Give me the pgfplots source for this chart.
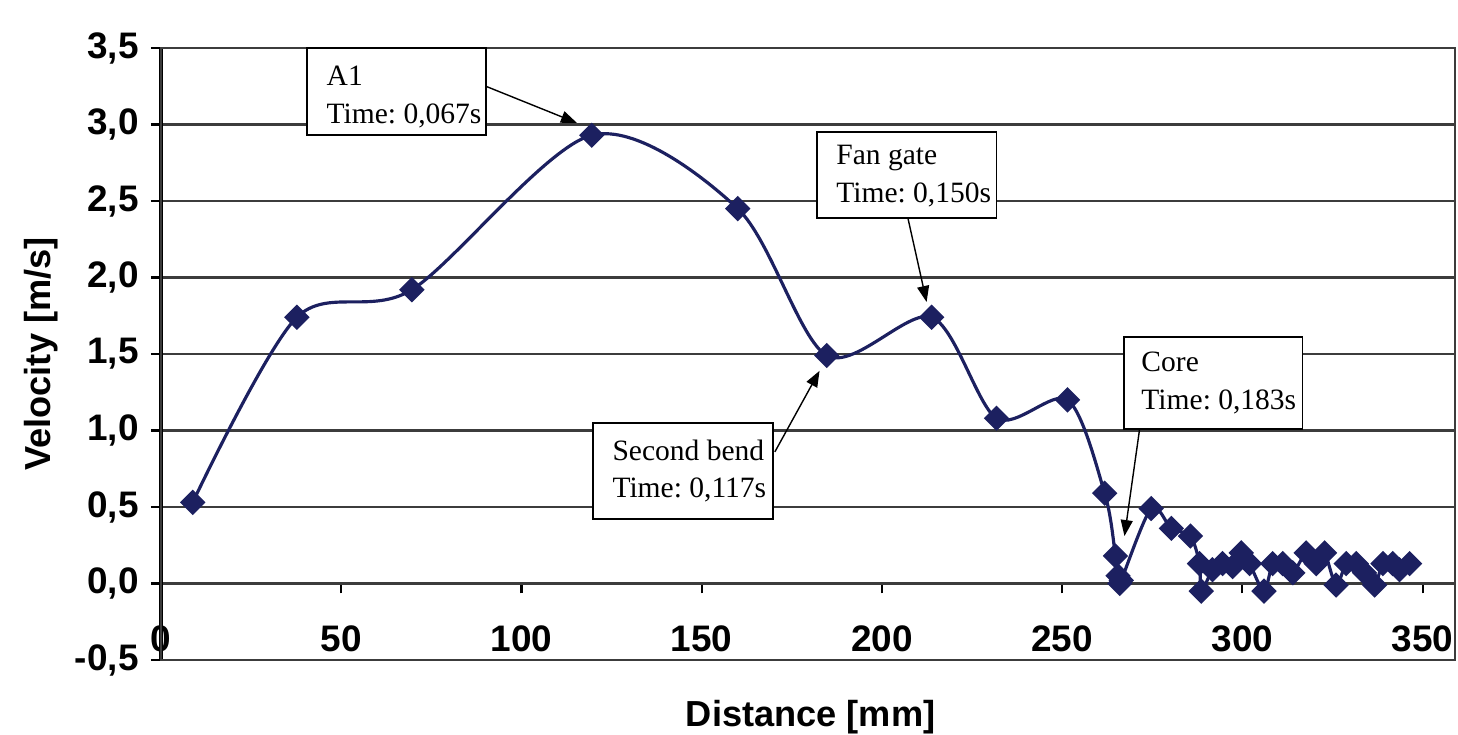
\documentclass[border=0pt]{standalone}
\usepackage{pgfplots}
\pgfplotsset{compat=1.18}
\usetikzlibrary{arrows.meta}
\usepackage{fontspec}
\setmainfont{Liberation Sans}
\newfontfamily\boxfont{Liberation Serif}
\definecolor{navy}{RGB}{28,32,96}
\definecolor{gridc}{RGB}{60,60,60}
\frenchspacing

\pgfplotstableread{
x y
8.8 0.53
37.7 1.74
69.6 1.92
119.5 2.93
160.0 2.45
184.7 1.49
213.8 1.74
231.8 1.08
251.5 1.20
261.8 0.59
264.8 0.18
265.5 0.05
266.0 0.00
266.4 0.02
274.7 0.49
280.3 0.36
285.6 0.31
288.1 0.13
288.6 -0.05
291.7 0.09
294.5 0.13
297.3 0.11
299.7 0.20
302.0 0.13
306.0 -0.05
308.4 0.13
311.2 0.13
314.0 0.07
317.7 0.20
320.5 0.13
322.8 0.20
326.0 -0.01
328.8 0.13
331.6 0.13
333.9 0.07
336.7 -0.01
339.0 0.13
341.7 0.13
343.6 0.09
346.4 0.13
}\velocity

\begin{document}
\begin{tikzpicture}
\begin{axis}[
  name=ax,
  scale only axis, width=12.94cm, height=6.12cm,
  xmin=0, xmax=359, ymin=-0.5, ymax=3.5,
  axis x line*=middle, axis y line*=left,
  xtick={0,50,100,150,200,250,300,350},
  ytick={-0.5,0,0.5,1,1.5,2,2.5,3,3.5},
  hide obscured x ticks=false, hide obscured y ticks=false,
  ymajorgrids, grid style={gridc, line width=0.7pt},
  tick align=outside, major tick length=0.1cm,
  tick style={black, line width=0.6pt},
  x axis line style={gridc, line width=0.7pt},
  y axis line style={black, line width=0.9pt},
  /pgf/number format/assume math mode=true,
  ticklabel style={font=\bfseries\fontsize{10.5}{12}\selectfont},
  y tick label style={/pgf/number format/.cd, fixed, fixed zerofill, precision=1, use comma},
  x tick label style={yshift=-0.2cm},
  clip=false,
]
\draw[gridc, line width=0.7pt] (rel axis cs:0,0) rectangle (rel axis cs:1,1);

\addplot[navy, line width=0.9pt, smooth, tension=0.5,
  mark=square*, mark size=2.1pt, mark options={rotate=45, fill=navy, solid}]
  table {\velocity};

% annotation boxes
\draw[black, line width=0.5pt, fill=white] (axis cs:40.5,3.5) rectangle (axis cs:90.1,2.93);
\node[anchor=west, align=left, inner sep=0pt, font=\boxfont\fontsize{8.4}{10.8}\selectfont]
  at ([xshift=0.19cm]axis cs:40.5,3.18) {A1\\Time: 0,067s};
\draw[black, line width=0.4pt, -{Triangle[length=1.6mm,width=1.2mm]}] (axis cs:90.1,3.25) -- (axis cs:115.4,3.01);

\draw[black, line width=0.5pt, fill=white] (axis cs:181.9,2.95) rectangle (axis cs:231.8,2.39);
\node[anchor=west, align=left, inner sep=0pt, font=\boxfont\fontsize{8.4}{10.8}\selectfont]
  at ([xshift=0.19cm]axis cs:181.9,2.66) {Fan gate\\Time: 0,150s};
\draw[black, line width=0.4pt, -{Triangle[length=1.6mm,width=1.2mm]}] (axis cs:207.2,2.39) -- (axis cs:212.4,1.84);

\draw[black, line width=0.5pt, fill=white] (axis cs:119.8,1.05) rectangle (axis cs:169.7,0.42);
\node[anchor=west, align=left, inner sep=0pt, font=\boxfont\fontsize{8.4}{10.8}\selectfont]
  at ([xshift=0.19cm]axis cs:119.8,0.735) {Second bend\\Time: 0,117s};
\draw[black, line width=0.4pt, -{Triangle[length=1.6mm,width=1.2mm]}] (axis cs:170.3,0.86) -- (axis cs:182.7,1.39);

\draw[black, line width=0.5pt, fill=white] (axis cs:267.1,1.61) rectangle (axis cs:316.7,1.01);
\node[anchor=west, align=left, inner sep=0pt, font=\boxfont\fontsize{8.4}{10.8}\selectfont]
  at ([xshift=0.17cm]axis cs:267.1,1.31) {Core\\Time: 0,183s};
\draw[black, line width=0.4pt, -{Triangle[length=1.6mm,width=1.2mm]}] (axis cs:271.5,1.01) -- (axis cs:267.3,0.31);

% axis titles
\node[rotate=90, font=\bfseries\fontsize{10.3}{12}\selectfont]
  at ([xshift=-1.20cm]rel axis cs:0,0.5) {Velocity [m/s]};
\node[font=\bfseries\fontsize{10.3}{12}\selectfont]
  at ([yshift=-0.57cm]rel axis cs:0.502,0) {Distance [mm]};
\end{axis}
\pgfresetboundingbox
\path ([shift={(-1.61cm,-0.75cm)}]ax.south west) rectangle ([shift={(0.03cm,0.48cm)}]ax.north east);
\end{tikzpicture}
\end{document}
